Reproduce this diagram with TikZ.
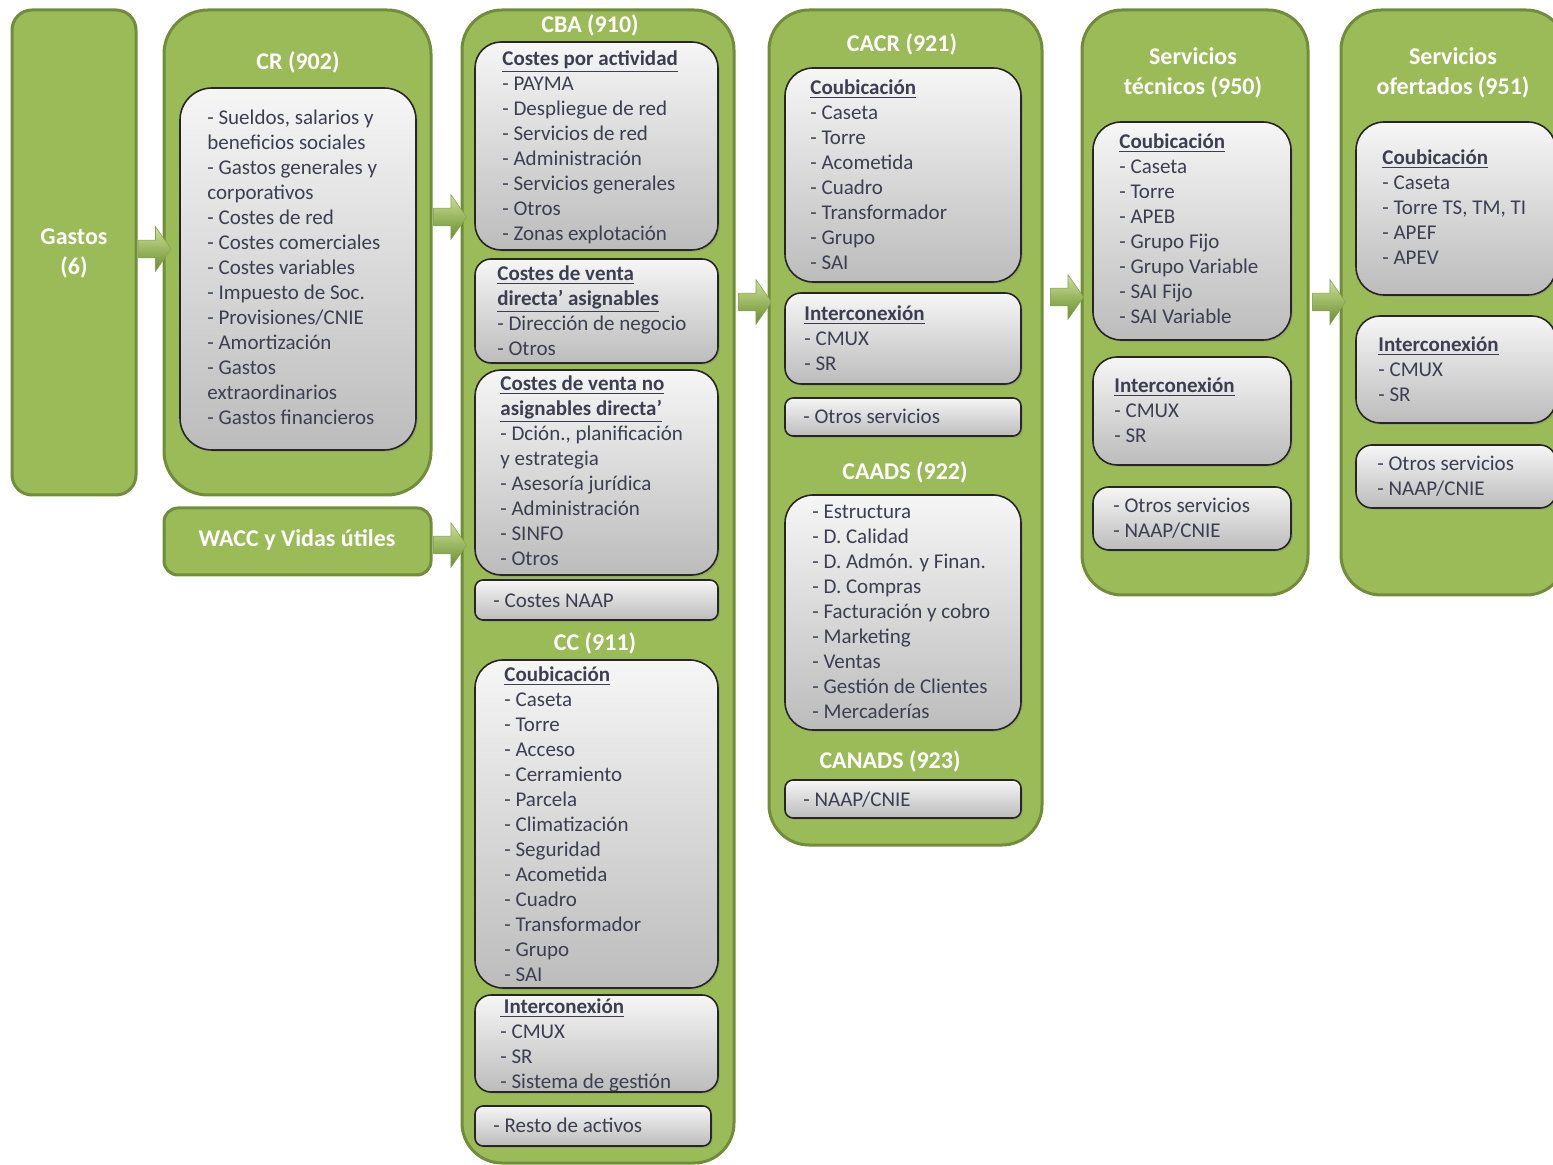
\documentclass[tikz,border=0pt]{standalone}
\usepackage{fontspec}
\setmainfont{Carlito}
\usetikzlibrary{shapes.arrows,shadows,fit}
\definecolor{gfill}{RGB}{155,187,89}
\definecolor{gline}{RGB}{113,140,58}
\definecolor{txt}{RGB}{62,62,82}
\definecolor{gtop}{RGB}{246,246,246}
\definecolor{gbot}{RGB}{188,188,188}
\definecolor{atop}{RGB}{205,225,150}
\definecolor{abot}{RGB}{105,140,45}
\tikzset{
  greenbox/.style={draw=gline, line width=1.5pt, fill=gfill, inner sep=0pt, rounded corners=#1},
  greybox/.style={draw=black!85, line width=0.8pt, top color=gtop, bottom color=gbot, inner sep=0pt,
    rounded corners=#1, drop shadow={shadow xshift=0.9pt, shadow yshift=-0.9pt, opacity=0.3}},
  boxtitle/.style={text=white, font=\fontsize{12}{15}\selectfont\bfseries, align=center, inner sep=0pt},
  items/.style={text=txt, font=\fontsize{10.5}{12.5}\selectfont, align=left, anchor=north west, inner sep=0pt, yshift=-1pt},
  barrow/.style={single arrow, single arrow head extend=6.75pt, single arrow tip angle=110,
    inner xsep=0pt, inner ysep=4.25pt, minimum height=16.5pt, top color=atop, bottom color=abot,
    draw=abot!80, line width=0.3pt}
}
\newcommand{\hd}[1]{\underline{\textbf{#1}}}
\begin{document}
\begin{tikzpicture}[x=0.5pt,y=-0.5pt]
\useasboundingbox (0,0) rectangle (1553,1165);
\fill[white] (0,0) rectangle (1553,1165);
\clip (0,0) rectangle (1553,1165);

% ---------- green columns ----------
\node[greenbox=10pt, fit={(12,10)(136,495)}] (gastos) {};
\node[greenbox=22pt, fit={(164,10)(431,495)}] (cr) {};
\node[greenbox=7pt, fit={(164,508)(431,575)}] (wacc) {};
\node[greenbox=20pt, fit={(462,10)(734,1163)}] (cba) {};
\node[greenbox=20pt, fit={(769,10)(1042,845)}] (cacr) {};
\node[greenbox=20pt, fit={(1082,10)(1308,595)}] (st) {};
\node[greenbox=20pt, fit={(1341,10)(1566,595)}] (so) {};

% ---------- titles ----------
\node[boxtitle] (tgastos) at (74,253) {Gastos\\(6)};
\node[boxtitle] (tcr) at (298,62) {CR (902)};
\node[boxtitle] (twacc) at (297,540) {WACC y Vidas útiles};
\node[boxtitle] (tcba) at (590,25) {CBA (910)};
\node[boxtitle] (tcc) at (595,643) {CC (911)};
\node[boxtitle] (tcacr) at (902,44) {CACR (921)};
\node[boxtitle] (tcaads) at (905,472) {CAADS (922)};
\node[boxtitle] (tcanads) at (890,761) {CANADS (923)};
\node[boxtitle] (tst) at (1193,73) {Servicios\\técnicos (950)};
\node[boxtitle] (tso) at (1453,73) {Servicios\\ofertados (951)};

% ---------- CR ----------
\node[greybox=16pt, fit={(180,88)(416,450)}] (crb) {};
\node[items] (crt) at (207,104.5) {\strut- Sueldos, salarios y\\beneficios sociales\\- Gastos generales y\\corporativos\\- Costes de red\\- Costes comerciales\\- Costes variables\\- Impuesto de Soc.\\- Provisiones/CNIE\\- Amortización\\- Gastos\\extraordinarios\\- Gastos financieros};

% ---------- CBA ----------
\node[greybox=13pt, fit={(475,42)(718,250)}] (cba1) {};
\node[items] (cba1t) at (502,45.5) {\strut\hd{Costes por actividad}\\- PAYMA\\- Despliegue de red\\- Servicios de red\\- Administración\\- Servicios generales\\- Otros\\- Zonas explotación};
\node[greybox=8pt, fit={(475,259)(718,363)}] (cba2) {};
\node[items] (cba2t) at (497,260.5) {\strut\hd{Costes de venta}\\\hd{directa’ asignables}\\- Dirección de negocio\\- Otros};
\node[greybox=13pt, fit={(475,370)(718,575)}] (cba3) {};
\node[items] (cba3t) at (500,370.5) {\strut\hd{Costes de venta no}\\\hd{asignables directa’}\\- Dción., planificación\\y estrategia\\- Asesoría jurídica\\- Administración\\- SINFO\\- Otros};
\node[greybox=4pt, fit={(475,580)(718,620)}] (cba4) {};
\node[items] (cba4t) at (493,587.5) {\strut- Costes NAAP};

\node[greybox=14pt, fit={(475,660)(718,988)}] (cc1) {};
\node[items] (cc1t) at (504,661.5) {\strut\hd{Coubicación}\\- Caseta\\- Torre\\- Acceso\\- Cerramiento\\- Parcela\\- Climatización\\- Seguridad\\- Acometida\\- Cuadro\\- Transformador\\- Grupo\\- SAI};
\node[greybox=8pt, fit={(475,995)(718,1092)}] (cc2) {};
\node[items] (cc2t) at (500,993.5) {\strut\hd{\,Interconexión}\\- CMUX\\- SR\\- Sistema de gestión};
\node[greybox=4pt, fit={(475,1106)(711,1146)}] (cc3) {};
\node[items] (cc3t) at (493,1112.5) {\strut- Resto de activos};

% ---------- CACR ----------
\node[greybox=14pt, fit={(785,68)(1021,282)}] (ca1) {};
\node[items] (ca1t) at (810,74.5) {\strut\hd{Coubicación}\\- Caseta\\- Torre\\- Acometida\\- Cuadro\\- Transformador\\- Grupo\\- SAI};
\node[greybox=8pt, fit={(785,293)(1021,384)}] (ca2) {};
\node[items] (ca2t) at (804,300.5) {\strut\hd{Interconexión}\\- CMUX\\- SR};
\node[greybox=4pt, fit={(785,398)(1021,436)}] (ca3) {};
\node[items] (ca3t) at (803,403.5) {\strut- Otros servicios};
\node[greybox=14pt, fit={(785,495)(1021,730)}] (ca4) {};
\node[items] (ca4t) at (812,498.5) {\strut- Estructura\\- D. Calidad\\- D. Admón. y Finan.\\- D. Compras\\- Facturación y cobro\\- Marketing\\- Ventas\\- Gestión de Clientes\\- Mercaderías};
\node[greybox=4pt, fit={(785,780)(1021,818)}] (ca5) {};
\node[items] (ca5t) at (803,786.5) {\strut- NAAP/CNIE};

% ---------- Servicios tecnicos ----------
\node[greybox=14pt, fit={(1093,122)(1291,340)}] (st1) {};
\node[items] (st1t) at (1119,128.5) {\strut\hd{Coubicación}\\- Caseta\\- Torre\\- APEB\\- Grupo Fijo\\- Grupo Variable\\- SAI Fijo\\- SAI Variable};
\node[greybox=12pt, fit={(1093,357)(1291,465)}] (st2) {};
\node[items] (st2t) at (1114,372.5) {\strut\hd{Interconexión}\\- CMUX\\- SR};
\node[greybox=8pt, fit={(1093,487)(1291,550)}] (st3) {};
\node[items] (st3t) at (1113,492.5) {\strut- Otros servicios\\- NAAP/CNIE};

% ---------- Servicios ofertados ----------
\node[greybox=14pt, fit={(1356,122)(1556,295)}] (so1) {};
\node[items] (so1t) at (1382,144.5) {\strut\hd{Coubicación}\\- Caseta\\- Torre TS, TM, TI\\- APEF\\- APEV};
\node[greybox=12pt, fit={(1356,316)(1556,423)}] (so2) {};
\node[items] (so2t) at (1378,331.5) {\strut\hd{Interconexión}\\- CMUX\\- SR};
\node[greybox=8pt, fit={(1356,445)(1556,508)}] (so3) {};
\node[items] (so3t) at (1377,450.5) {\strut- Otros servicios\\- NAAP/CNIE};

% ---------- block arrows ----------
\node[barrow] (a1) at (151.5,249) {};
\node[barrow] (a2) at (447,217) {};
\node[barrow] (a3) at (447,545) {};
\node[barrow] (a4) at (752,302) {};
\node[barrow] (a5) at (1064,297) {};
\node[barrow] (a6) at (1326,302) {};
\end{tikzpicture}
\end{document}
